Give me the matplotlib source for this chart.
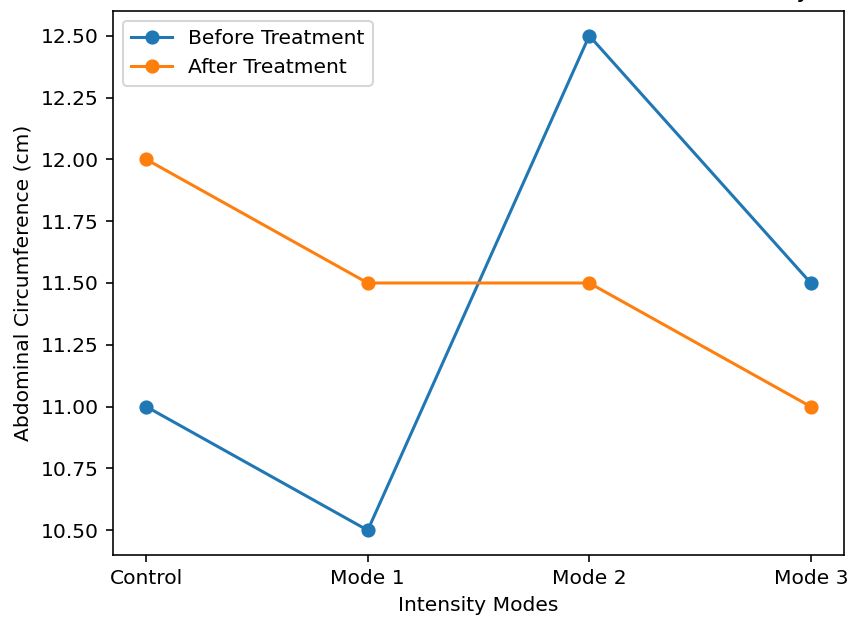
import matplotlib
matplotlib.use("Agg")
import matplotlib.pyplot as plt

categories = ["Control", "Mode 1", "Mode 2", "Mode 3"]
before = [11.0, 10.5, 12.5, 11.5]
after = [12.0, 11.5, 11.5, 11.0]

DPI = 146
fig = plt.figure(figsize=(851 / DPI, 617 / DPI), dpi=DPI)
ax = fig.add_axes([113 / 851, 1 - 555 / 617, (844 - 113) / 851, (555 - 11) / 617])

ax.plot(categories, before, marker="o", label="Before Treatment")
ax.plot(categories, after, marker="o", label="After Treatment")
ax.set_xlabel("Intensity Modes")
ax.set_ylabel("Abdominal Circumference (cm)")
ax.set_title("Abdominal Circumferences Across Treatment Intensity", pad=7)
ax.legend(loc="upper left")

fig.savefig("out.png", dpi=DPI)
